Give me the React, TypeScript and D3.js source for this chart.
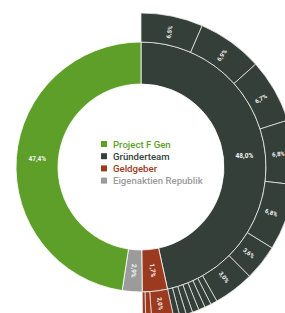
import React from "react";
import * as d3 from "d3";

// Inner ring (shares of the whole circle)
const groups = ["Gründerteam", "Geldgeber", "Eigenaktien Republik", "Project F Gen"];
const groupValues = [46.6, 3.25, 2.56, 47.59];
const groupLabels = ["48,0%", "1,7%", "2,9%", "47,4%"];
const groupColors = ["#343f39", "#9c3a20", "#9b9b9b", "#5e9f2a"];

// Outer ring: breakdown of Gründerteam and Geldgeber
const childGroup = [0, 0, 0, 0, 0, 0, 0, 0, 0, 0, 0, 0, 0, 0, 1, 1, 1];
const childValues = [6.5, 6.86, 6.72, 6.75, 6.97, 3.75, 4.25, 0.69, 0.69, 0.69, 0.69, 0.69, 0.69, 0.64, 2.3, 0.61, 0.34];
const childLabels = ["6,5%", "6,9%", "6,7%", "6,8%", "6,8%", "3,6%", "3,0%", "", "", "", "", "", "", "", "2,0%", "", ""];

// Legend order
const legendOrder = [3, 0, 1, 2];

const W = 285, H = 313, CX = 141, CY = 167;
const R0 = 83, R1 = 125, R2 = 154;

export default function App() {
  const pie = d3.pie<number>().sort(null).value((d) => d).startAngle(0).endAngle(2 * Math.PI);
  const inner = pie(groupValues);
  const restValue = groupValues[2] + groupValues[3];
  const outer = pie([...childValues, restValue]);
  const arcInner = d3.arc<d3.PieArcDatum<number>>().innerRadius(R0).outerRadius(R1);
  const arcOuter = d3.arc<d3.PieArcDatum<number>>().innerRadius(R1).outerRadius(R2);
  const lblInner = d3.arc<d3.PieArcDatum<number>>().innerRadius(104).outerRadius(104);
  const lblOuter = d3.arc<d3.PieArcDatum<number>>().innerRadius(138).outerRadius(138);
  const font = "Roboto, 'Open Sans', sans-serif";
  return (
    <svg width={W} height={H} style={{ position: "absolute", left: 0, top: 0, background: "#fff" }}>
      <g transform={`translate(${CX},${CY})`}>
        {inner.map((a, i) => (
          <path key={"i" + i} d={arcInner(a) || ""} fill={groupColors[i]} stroke="#fff" strokeWidth={0.8} />
        ))}
        {outer.slice(0, childValues.length).map((a, i) => (
          <path key={"o" + i} d={arcOuter(a) || ""} fill={groupColors[childGroup[i]]} stroke="#e4e4e4" strokeWidth={0.8} />
        ))}
        {inner.map((a, i) => {
          const [x, y] = lblInner.centroid(a);
          const mid = ((a.startAngle + a.endAngle) / 2) * 180 / Math.PI;
          const rot = groupValues[i] < 10 ? mid - 90 : 0;
          return (
            <text key={"li" + i} x={0} y={0} transform={`translate(${x},${y}) rotate(${rot})`} textAnchor="middle" dominantBaseline="central"
              fill="#f4f4f4" fontSize={6.5} fontWeight={700} fontFamily={font}>{groupLabels[i]}</text>
          );
        })}
        {outer.slice(0, childValues.length).map((a, i) => {
          if (!childLabels[i]) return null;
          const [x, y] = lblOuter.centroid(a);
          const mid = ((a.startAngle + a.endAngle) / 2) * 180 / Math.PI;
          return (
            <text key={"lo" + i} transform={`translate(${x},${y}) rotate(${mid - 90})`} textAnchor="middle" dominantBaseline="central"
              fill="#f4f4f4" fontSize={6} fontWeight={700} fontFamily={font}>{childLabels[i]}</text>
          );
        })}
      </g>
      <g transform="translate(101,141)">
        {legendOrder.map((gi, k) => (
          <g key={"lg" + k} transform={`translate(0,${k * 12.2})`}>
            <rect x={0} y={0} width={6} height={6} fill={groupColors[gi]} />
            <text x={12} y={3} dominantBaseline="central" fill={groupColors[gi]} fontSize={9.6} fontWeight={500} fontFamily={font}>{groups[gi]}</text>
          </g>
        ))}
      </g>
    </svg>
  );
}
